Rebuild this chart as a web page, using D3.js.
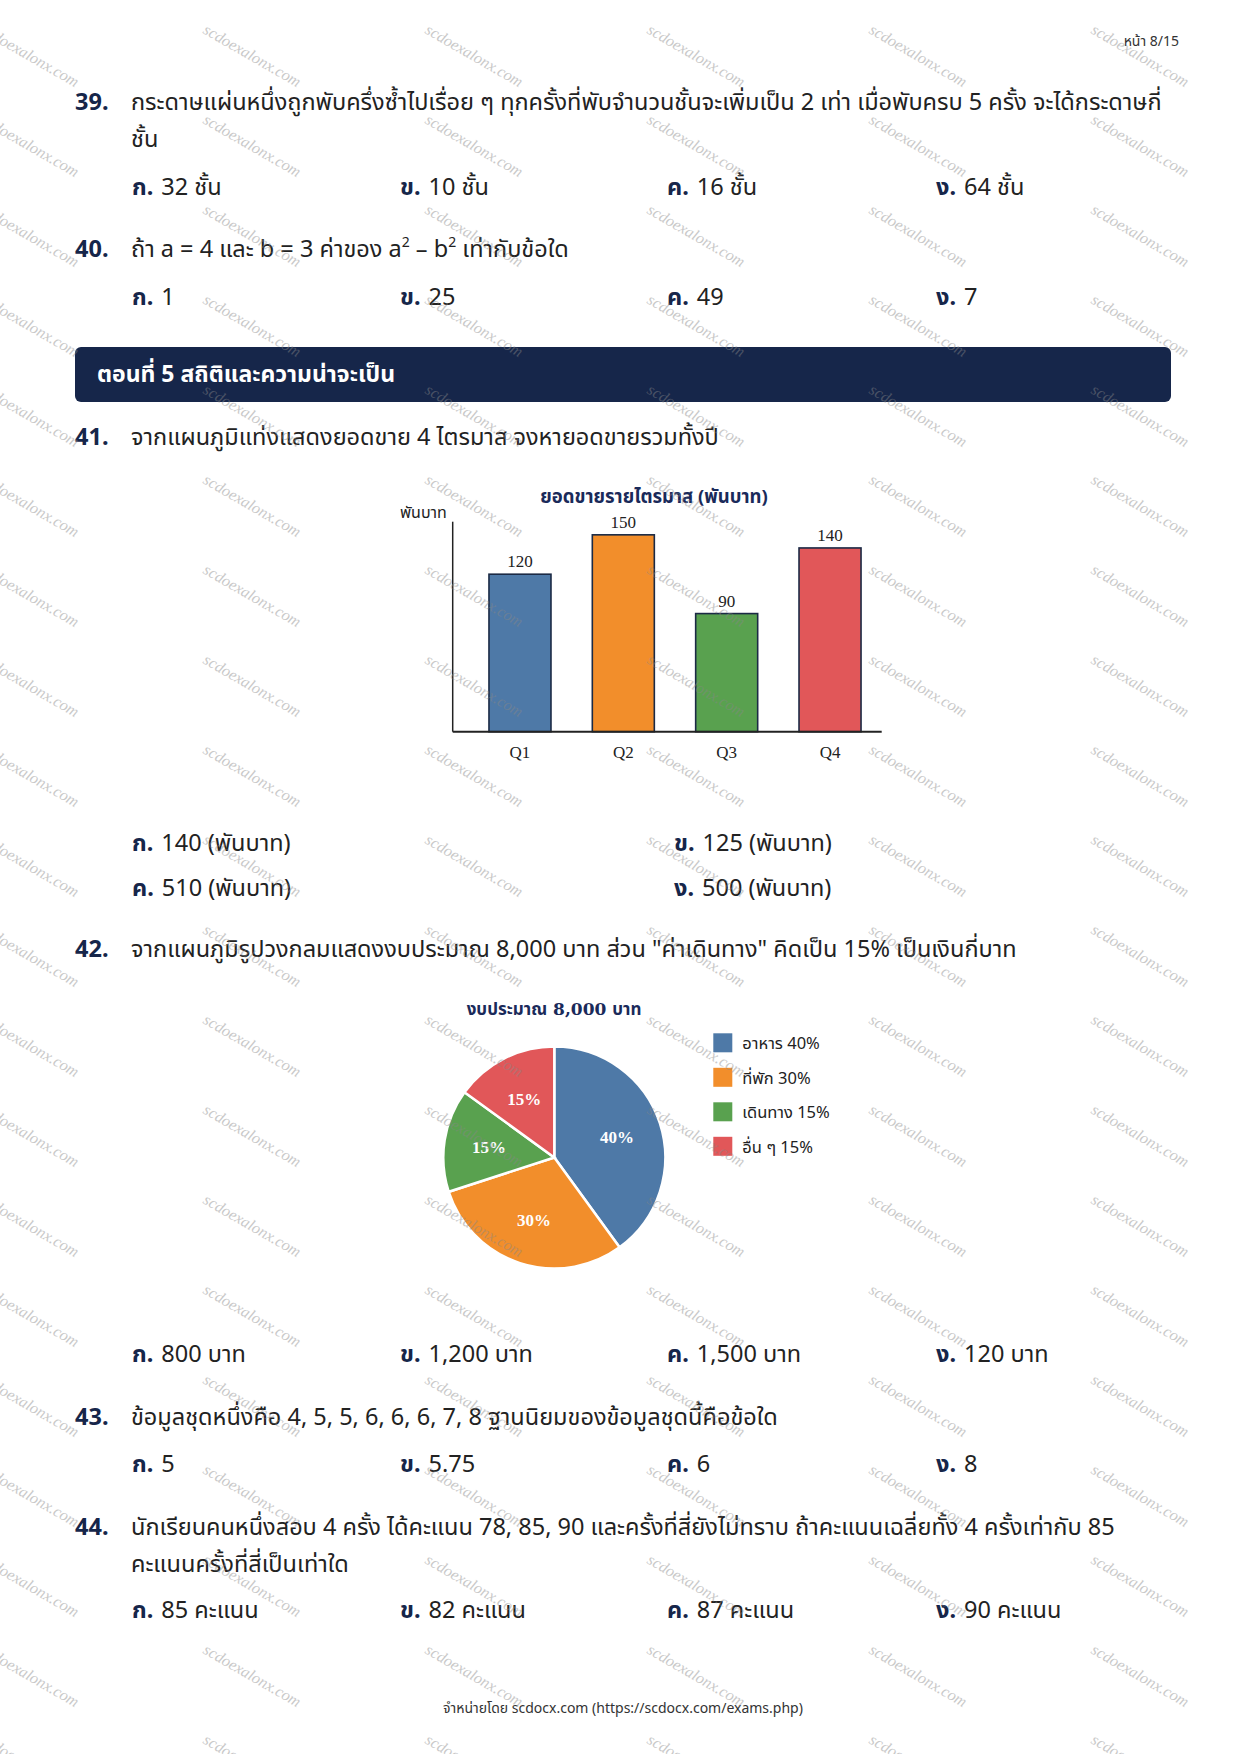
<!DOCTYPE html>
<html><head><meta charset="utf-8">
<script src="https://cdn.jsdelivr.net/npm/d3@7"></script>
<style>
html,body{margin:0;padding:0;background:#fff;}
svg{display:block;}
</style></head>
<body>
<svg id="page" width="1240" height="1754"></svg>
<script>
// ---------- data ----------
const quarters = ["Q1", "Q2", "Q3", "Q4"];
const sales = [120, 150, 90, 140];
const seriesColors = ["#4e79a7", "#f28e2b", "#59a14f", "#e15759"];
const budgetNames = ["อาหาร", "ที่พัก", "เดินทาง", "อื่น ๆ"];
const budgetShares = [40, 30, 15, 15];
const barTitle = "ยอดขายรายไตรมาส (พันบาท)";
const barUnit = "พันบาท";
const pieTitle = "งบประมาณ 8,000 บาท";

const q39 = ["กระดาษแผ่นหนึ่งถูกพับครึ่งซ้ำไปเรื่อย ๆ ทุกครั้งที่พับจำนวนชั้นจะเพิ่มเป็น 2 เท่า เมื่อพับครบ 5 ครั้ง จะได้กระดาษกี่", "ชั้น"];
const c39 = ["32 ชั้น", "10 ชั้น", "16 ชั้น", "64 ชั้น"];
const c40 = ["1", "25", "49", "7"];
const q41 = "จากแผนภูมิแท่งแสดงยอดขาย 4 ไตรมาส จงหายอดขายรวมทั้งปี";
const c41 = ["140 (พันบาท)", "125 (พันบาท)", "510 (พันบาท)", "500 (พันบาท)"];
const q42 = "จากแผนภูมิรูปวงกลมแสดงงบประมาณ 8,000 บาท ส่วน \"ค่าเดินทาง\" คิดเป็น 15% เป็นเงินกี่บาท";
const c42 = ["800 บาท", "1,200 บาท", "1,500 บาท", "120 บาท"];
const q43 = "ข้อมูลชุดหนึ่งคือ 4, 5, 5, 6, 6, 6, 7, 8 ฐานนิยมของข้อมูลชุดนี้คือข้อใด";
const c43 = ["5", "5.75", "6", "8"];
const q44 = ["นักเรียนคนหนึ่งสอบ 4 ครั้ง ได้คะแนน 78, 85, 90 และครั้งที่สี่ยังไม่ทราบ ถ้าคะแนนเฉลี่ยทั้ง 4 ครั้งเท่ากับ 85", "คะแนนครั้งที่สี่เป็นเท่าใด"];
const c44 = ["85 คะแนน", "82 คะแนน", "87 คะแนน", "90 คะแนน"];
const choiceLetters = ["ก.", "ข.", "ค.", "ง."];
const sectionTitle = "ตอนที่ 5 สถิติและความน่าจะเป็น";
const pageLabel = "หน้า 8/15";
const footerText = "จำหน่ายโดย scdocx.com (https://scdocx.com/exams.php)";
const watermarkText = "scdoexalonx.com";

// ---------- page ----------
const SANS = "'Noto Sans', 'Noto Sans Thai', 'Noto Sans Thai UI', sans-serif";
const SERIF = "'Liberation Serif', 'Times New Roman', serif";
const NAVY = "#16264a";
const TEXT = "#222";
const FS = 23.5;
const svg = d3.select("#page");

svg.append("text").attr("x", 1179).attr("y", 46).attr("text-anchor", "end")
  .attr("font-family", SANS).attr("font-size", 14).attr("fill", "#333").text(pageLabel);

function question(num, lines, y) {
  svg.append("text").attr("x", 75).attr("y", y).attr("font-family", SANS)
    .attr("font-size", FS).attr("font-weight", 700).attr("fill", NAVY).text(num + ".");
  lines.forEach((l, i) => {
    svg.append("text").attr("x", 131).attr("y", y + i * 36.5).attr("font-family", SANS)
      .attr("font-size", FS).attr("fill", TEXT).text(l);
  });
}
function choices(items, xs, ys) {
  items.forEach((t, i) => {
    const g = svg.append("text").attr("x", xs[i]).attr("y", ys[i]).attr("font-family", SANS)
      .attr("font-size", FS).attr("fill", TEXT);
    g.append("tspan").attr("font-weight", 700).attr("fill", NAVY).text(choiceLetters[i]);
    g.append("tspan").attr("dx", 8).text(t);
  });
}
const cols4 = [132, 400, 667, 936];

question(39, q39, 110);
choices(c39, cols4, [195, 195, 195, 195]);

// question 40 with superscripts
svg.append("text").attr("x", 75).attr("y", 257).attr("font-family", SANS)
  .attr("font-size", FS).attr("font-weight", 700).attr("fill", NAVY).text("40.");
const t40 = svg.append("text").attr("x", 131).attr("y", 257).attr("font-family", SANS)
  .attr("font-size", FS).attr("fill", TEXT);
t40.append("tspan").text("ถ้า a = 4 และ b = 3 ค่าของ a");
t40.append("tspan").attr("font-size", 14).attr("dy", -10).text("2");
t40.append("tspan").attr("dy", 10).text(" – b");
t40.append("tspan").attr("font-size", 14).attr("dy", -10).text("2");
t40.append("tspan").attr("dy", 10).text(" เท่ากับข้อใด");
choices(c40, cols4, [305, 305, 305, 305]);

// section banner
svg.append("rect").attr("x", 75).attr("y", 347).attr("width", 1096).attr("height", 55)
  .attr("rx", 6).attr("fill", NAVY);
svg.append("text").attr("x", 97).attr("y", 382).attr("font-family", SANS)
  .attr("font-size", 23).attr("font-weight", 700).attr("fill", "#fff").text(sectionTitle);

question(41, [q41], 445);

// ---------- bar chart ----------
const bx = d3.scaleBand().domain(quarters).range([468.3, 881.7]).paddingInner(0.4).paddingOuter(0.2);
const by = d3.scaleLinear().domain([0, 160]).range([731.7, 521.7]);
const bar = svg.append("g");
bar.append("text").attr("x", 654).attr("y", 503).attr("text-anchor", "middle")
  .attr("font-family", SANS).attr("font-size", 18.5).attr("font-weight", 700).attr("fill", "#1a2a5a").text(barTitle);
bar.append("text").attr("x", 400).attr("y", 518).attr("font-family", SANS)
  .attr("font-size", 16).attr("fill", TEXT).text(barUnit);
bar.selectAll("rect.bar").data(quarters).join("rect").attr("class", "bar")
  .attr("x", d => bx(d)).attr("width", bx.bandwidth())
  .attr("y", (d, i) => by(sales[i])).attr("height", (d, i) => by(0) - by(sales[i]))
  .attr("fill", (d, i) => seriesColors[i]).attr("stroke", "#1b2a45").attr("stroke-width", 1.6);
bar.selectAll("text.val").data(quarters).join("text").attr("class", "val")
  .attr("x", d => bx(d) + bx.bandwidth() / 2).attr("y", (d, i) => by(sales[i]) - 7)
  .attr("text-anchor", "middle").attr("font-family", SERIF).attr("font-size", 17).attr("fill", TEXT)
  .text((d, i) => sales[i]);
const xAxis = bar.append("g").attr("transform", `translate(0,${by(0)})`)
  .call(d3.axisBottom(bx).tickSize(0).tickPadding(14));
xAxis.select(".domain").remove();
xAxis.selectAll("text").attr("font-family", SERIF).attr("font-size", 17).attr("fill", TEXT);
bar.append("line").attr("x1", 452.7).attr("x2", 452.7).attr("y1", by(160)).attr("y2", by(0))
  .attr("stroke", "#222").attr("stroke-width", 1.5);
bar.append("line").attr("x1", 452.7).attr("x2", 881.7).attr("y1", by(0)).attr("y2", by(0))
  .attr("stroke", "#222").attr("stroke-width", 2);

choices(c41, [132, 674, 132, 674], [851, 851, 896, 896]);

question(42, [q42], 957);

// ---------- pie chart ----------
const cx = 554.3, cy = 1157.5, R = 111;
const pie = d3.pie().sort(null).value(d => d)(budgetShares);
const arc = d3.arc().innerRadius(0).outerRadius(R);
const lblArc = d3.arc().innerRadius(66).outerRadius(66);
const pg = svg.append("g").attr("transform", `translate(${cx},${cy})`);
pg.selectAll("path").data(pie).join("path").attr("d", arc)
  .attr("fill", (d, i) => seriesColors[i]).attr("stroke", "#fff").attr("stroke-width", 2.5);
pg.selectAll("text").data(pie).join("text")
  .attr("transform", d => `translate(${lblArc.centroid(d)})`)
  .attr("text-anchor", "middle").attr("dy", "0.35em")
  .attr("font-family", SERIF).attr("font-size", 17).attr("font-weight", 700).attr("fill", "#fff")
  .text(d => d.data + "%");
svg.append("text").attr("x", 554).attr("y", 1015).attr("text-anchor", "middle")
  .attr("font-family", "'DejaVu Serif', 'Liberation Serif', 'Noto Sans Thai', serif")
  .attr("font-size", 17).attr("font-weight", 700).attr("fill", "#1a2a5a").text(pieTitle);
const lg = svg.append("g");
budgetNames.forEach((n, i) => {
  const y0 = 1033.3 + i * 34.5;
  lg.append("rect").attr("x", 713.3).attr("y", y0).attr("width", 19).attr("height", 19).attr("fill", seriesColors[i]);
  lg.append("text").attr("x", 742.3).attr("y", y0 + 16).attr("font-family", SANS)
    .attr("font-size", 16.5).attr("fill", TEXT).text(n + " " + budgetShares[i] + "%");
});

choices(c42, cols4, [1362, 1362, 1362, 1362]);
question(43, [q43], 1425);
choices(c43, cols4, [1472, 1472, 1472, 1472]);
question(44, q44, 1535);
choices(c44, cols4, [1618, 1618, 1618, 1618]);

svg.append("text").attr("x", 623).attr("y", 1713).attr("text-anchor", "middle")
  .attr("font-family", SANS).attr("font-size", 14).attr("fill", "#333").text(footerText);

// ---------- watermark ----------
const wm = svg.append("g").attr("pointer-events", "none");
for (let c = 0; c < 6; c++) {
  for (let r = 0; r < 20; r++) {
    const x = 30 + c * 222, y = 56 + r * 90;
    wm.append("text").attr("transform", `translate(${x},${y}) rotate(30)`)
      .attr("text-anchor", "middle").attr("dy", "0.3em")
      .attr("font-family", SERIF).attr("font-style", "italic").attr("font-size", 16)
      .attr("fill", "#888").attr("opacity", 0.45).text(watermarkText);
  }
}
</script>
</body></html>
